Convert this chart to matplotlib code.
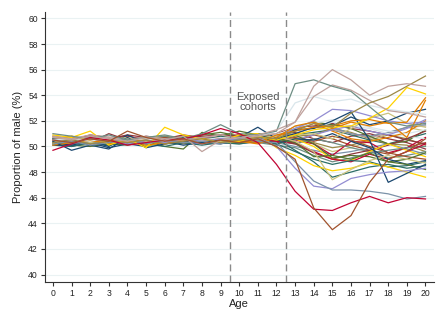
import matplotlib
matplotlib.use("Agg")
import matplotlib.pyplot as plt

plt.rcParams["font.family"] = ["Liberation Sans", "DejaVu Sans"]

ages = list(range(21))

# Stata s2color palette, cycled over the series
palette = ["#1a476f", "#90353b", "#55752f", "#e37e00", "#6e8e84",
           "#c10534", "#938dd2", "#cac27e", "#a0522d", "#7b92a8",
           "#2d6d66", "#9c8847", "#bfa19c", "#ffd200", "#d9e6eb"]

# proportion of male (%) by age, one list per group
navy_a = [50.4, 49.7, 50.1, 49.8, 50.7, 49.9, 50.2, 50.4, 50.3, 50.5, 50.6, 50.9, 50.5, 51.3, 51.4, 52.0, 52.7, 50.5, 47.2, 47.9, 48.6]
maroon_a = [50.6, 50.5, 50.9, 50.7, 50.8, 50.5, 50.7, 50.6, 50.8, 50.9, 50.8, 50.7, 51.0, 51.5, 51.6, 51.8, 51.4, 51.2, 50.9, 50.5, 50.2]
forest_a = [50.3, 50.1, 50.0, 50.2, 50.1, 50.4, 50.0, 49.8, 51.1, 50.8, 51.2, 50.9, 50.7, 50.9, 50.2, 49.1, 49.3, 49.2, 48.8, 49.0, 49.5]
orange_a = [50.8, 50.6, 50.4, 50.5, 50.3, 50.6, 50.2, 50.5, 50.4, 50.7, 50.5, 50.3, 50.9, 51.2, 51.5, 51.6, 52.0, 52.1, 51.8, 51.9, 53.8]
teal_a = [51.0, 50.8, 50.6, 50.9, 50.5, 50.7, 50.9, 50.6, 51.0, 51.7, 51.0, 50.9, 51.2, 54.9, 55.2, 54.7, 54.3, 53.1, 51.9, 51.6, 51.8]
cranberry_a = [49.7, 50.2, 50.7, 50.5, 50.1, 50.3, 50.5, 50.6, 50.9, 51.4, 51.0, 50.3, 48.6, 46.5, 45.1, 45.0, 45.6, 46.1, 45.6, 46.0, 45.9]
lavender_a = [50.5, 50.3, 50.6, 50.4, 50.2, 50.5, 50.3, 50.6, 50.4, 50.6, 50.5, 50.7, 50.0, 48.3, 46.9, 46.7, 47.5, 47.8, 48.0, 48.1, 48.3]
khaki_a = [50.4, 50.6, 50.3, 50.5, 50.7, 50.4, 50.6, 50.3, 50.5, 50.4, 50.6, 50.5, 50.8, 50.4, 49.6, 47.4, 48.2, 48.9, 49.3, 49.0, 48.7]
sienna_a = [50.5, 50.3, 50.6, 50.4, 51.2, 50.7, 50.4, 50.6, 50.2, 50.5, 50.3, 50.6, 50.0, 49.0, 45.2, 43.5, 44.6, 47.2, 49.0, 49.6, 50.6]
emidblue_a = [50.2, 50.4, 50.1, 50.3, 50.6, 50.2, 50.5, 50.3, 50.4, 50.2, 50.6, 50.4, 50.3, 48.8, 47.3, 46.6, 46.6, 46.5, 46.3, 45.9, 46.1]
emerald_a = [50.6, 50.4, 50.7, 50.5, 50.3, 50.6, 50.4, 50.7, 50.5, 50.8, 50.6, 50.5, 50.6, 49.7, 48.8, 47.6, 48.0, 48.4, 48.6, 48.3, 48.5]
olive_a = [50.3, 50.5, 50.2, 50.4, 50.3, 50.5, 50.2, 50.4, 50.6, 50.3, 50.5, 50.7, 50.6, 51.2, 51.8, 51.5, 52.6, 53.4, 53.9, 54.7, 55.5]
erose_a = [50.7, 50.5, 50.8, 50.6, 50.4, 50.7, 50.5, 50.8, 49.6, 50.5, 50.7, 50.9, 51.3, 51.9, 54.7, 56.0, 55.2, 54.0, 54.7, 54.9, 54.7]
gold_a = [50.9, 50.7, 51.2, 50.1, 50.6, 49.9, 51.5, 50.9, 50.6, 50.3, 50.4, 50.8, 50.5, 50.9, 51.3, 51.5, 51.6, 52.2, 53.0, 54.6, 54.1]
grey_a = [50.5, 50.6, 50.4, 50.7, 50.5, 50.6, 50.4, 50.6, 50.5, 50.7, 50.6, 50.8, 51.2, 53.4, 53.9, 53.5, 53.7, 53.2, 52.9, 52.7, 52.5]

navy_b = [50.3, 50.1, 50.4, 50.0, 50.9, 50.2, 50.6, 50.3, 50.5, 50.4, 50.7, 51.5, 50.6, 51.0, 51.5, 51.6, 52.3, 51.7, 52.0, 52.6, 52.9]
maroon_b = [50.4, 50.6, 50.3, 51.0, 50.5, 50.8, 50.6, 50.9, 50.7, 50.6, 50.9, 50.6, 50.4, 50.2, 49.5, 49.0, 49.4, 49.7, 50.1, 50.6, 51.2]
forest_b = [50.6, 50.4, 50.6, 50.3, 50.5, 50.7, 50.4, 50.6, 50.9, 51.1, 50.8, 51.0, 50.8, 51.5, 51.9, 51.7, 51.4, 50.8, 50.2, 50.4, 51.3]
orange_b = [50.1, 50.3, 50.5, 50.2, 50.4, 50.1, 50.3, 50.5, 50.6, 50.5, 50.4, 50.2, 50.7, 51.6, 51.9, 51.4, 51.9, 51.6, 51.9, 50.7, 53.6]
teal_b = [50.4, 50.2, 50.5, 50.7, 50.4, 50.6, 50.8, 50.5, 50.3, 50.6, 50.4, 50.3, 50.1, 49.9, 49.3, 48.8, 49.1, 49.5, 49.7, 49.9, 50.0]
cranberry_b = [50.5, 50.7, 50.4, 50.6, 50.8, 50.5, 50.7, 50.4, 50.6, 50.8, 50.9, 50.6, 50.3, 50.5, 50.2, 49.3, 50.4, 50.3, 49.5, 49.9, 50.7]
lavender_b = [50.3, 50.5, 50.2, 50.4, 50.6, 50.3, 50.5, 50.4, 50.2, 50.6, 50.5, 50.4, 50.8, 51.4, 52.0, 52.9, 52.8, 52.4, 52.0, 51.8, 51.9]
khaki_b = [50.6, 50.4, 50.7, 50.5, 50.3, 50.6, 50.4, 50.6, 50.8, 50.5, 50.7, 50.6, 50.9, 51.0, 50.2, 49.6, 49.9, 50.4, 51.0, 51.5, 51.2]
sienna_b = [50.4, 50.6, 50.5, 50.7, 50.6, 50.3, 50.6, 50.5, 50.7, 50.6, 50.4, 50.5, 50.6, 50.4, 50.9, 50.6, 50.1, 49.7, 49.4, 49.9, 50.3]
emidblue_b = [50.6, 50.4, 50.3, 50.5, 50.4, 50.7, 50.5, 50.3, 50.6, 50.4, 50.8, 50.6, 50.9, 51.3, 51.8, 51.5, 51.0, 50.8, 51.1, 51.5, 51.7]
emerald_b = [50.2, 50.0, 50.3, 50.1, 50.4, 50.2, 50.0, 50.3, 50.1, 50.3, 50.2, 50.4, 50.2, 49.6, 49.0, 48.6, 48.9, 48.8, 48.4, 48.5, 48.8]
olive_b = [50.5, 50.7, 50.4, 50.6, 50.5, 50.4, 50.6, 50.8, 50.4, 50.6, 50.5, 50.3, 50.4, 50.8, 50.9, 51.4, 51.1, 50.6, 50.2, 50.1, 49.6]
erose_b = [50.8, 50.6, 50.9, 50.7, 50.5, 50.8, 50.6, 50.5, 50.7, 50.9, 50.6, 50.8, 51.0, 51.9, 53.9, 54.8, 54.4, 53.6, 52.8, 52.6, 52.3]
gold_b = [50.2, 50.8, 50.5, 50.2, 50.6, 50.0, 50.4, 50.6, 50.3, 50.4, 50.9, 51.0, 49.9, 49.3, 48.5, 48.1, 48.3, 48.7, 48.4, 48.0, 47.6]
grey_b = [50.4, 50.3, 50.5, 50.2, 50.4, 50.3, 50.5, 50.6, 50.4, 50.5, 50.7, 50.6, 50.9, 51.5, 51.8, 52.1, 51.9, 51.5, 51.2, 51.0, 51.3]

navy_c = [50.1, 50.0, 50.3, 49.9, 50.2, 50.0, 50.4, 50.1, 50.3, 50.2, 50.5, 50.7, 50.2, 50.6, 50.5, 51.0, 50.4, 49.9, 49.0, 48.6, 48.9]
maroon_c = [50.7, 50.5, 50.8, 50.6, 50.9, 50.7, 50.5, 50.8, 50.6, 50.7, 50.8, 50.9, 51.0, 51.1, 50.6, 50.3, 50.8, 51.0, 50.6, 50.3, 49.8]
forest_c = [50.5, 50.3, 50.4, 50.6, 50.2, 50.5, 50.3, 50.4, 50.6, 50.4, 50.3, 50.5, 50.6, 50.3, 49.2, 49.3, 49.0, 49.5, 48.8, 48.6, 48.2]
orange_c = [50.6, 50.8, 50.5, 50.7, 50.4, 50.6, 50.8, 50.6, 50.4, 50.8, 50.7, 50.5, 50.7, 51.3, 51.8, 51.2, 50.6, 50.4, 50.7, 51.1, 52.0]
teal_c = [50.2, 50.4, 50.3, 50.1, 50.3, 50.4, 50.2, 50.3, 50.5, 50.3, 50.2, 50.4, 50.5, 50.2, 50.6, 50.3, 49.9, 49.6, 49.1, 49.3, 49.6]
cranberry_c = [50.3, 50.5, 50.6, 50.4, 50.2, 50.4, 50.6, 50.3, 50.5, 50.4, 50.6, 50.5, 50.4, 50.3, 49.6, 49.0, 48.8, 49.4, 49.0, 49.6, 50.2]
lavender_c = [50.6, 50.4, 50.5, 50.7, 50.5, 50.4, 50.6, 50.5, 50.7, 50.5, 50.6, 50.8, 50.7, 50.5, 50.9, 51.3, 51.6, 51.2, 50.9, 51.4, 52.1]
khaki_c = [50.3, 50.5, 50.4, 50.6, 50.4, 50.6, 50.3, 50.5, 50.4, 50.6, 50.5, 50.7, 50.8, 50.9, 51.0, 50.6, 51.4, 52.2, 52.6, 51.8, 51.5]
sienna_c = [50.5, 50.4, 50.6, 50.5, 50.3, 50.5, 50.7, 50.4, 50.6, 50.5, 50.6, 50.4, 50.5, 50.7, 50.4, 50.8, 50.5, 50.0, 49.5, 49.2, 49.0]
emidblue_c = [50.4, 50.6, 50.4, 50.3, 50.5, 50.3, 50.4, 50.6, 50.5, 50.3, 50.4, 50.6, 50.3, 50.0, 49.7, 49.4, 49.6, 49.9, 50.2, 49.8, 49.4]
emerald_c = [50.5, 50.7, 50.6, 50.4, 50.6, 50.5, 50.3, 50.5, 50.7, 50.6, 50.5, 50.4, 50.6, 50.9, 51.1, 51.3, 50.9, 50.5, 50.2, 50.6, 51.0]
olive_c = [50.4, 50.2, 50.5, 50.3, 50.4, 50.6, 50.5, 50.2, 50.4, 50.5, 50.3, 50.5, 50.4, 50.6, 50.3, 49.9, 50.1, 50.5, 50.9, 50.6, 50.1]
erose_c = [50.6, 50.5, 50.7, 50.5, 50.6, 50.4, 50.6, 50.7, 50.5, 50.6, 50.4, 50.6, 50.8, 51.0, 51.5, 51.3, 51.0, 50.7, 51.0, 51.5, 51.6]
gold_c = [50.5, 50.3, 50.6, 50.4, 50.5, 50.7, 50.5, 50.4, 50.6, 50.5, 50.7, 50.5, 50.2, 50.6, 50.0, 49.0, 48.9, 49.6, 50.2, 49.7, 49.2]
grey_c = [50.7, 50.6, 50.4, 50.6, 50.7, 50.5, 50.6, 50.4, 50.6, 50.8, 50.7, 50.9, 51.0, 51.2, 51.4, 51.9, 51.6, 51.4, 51.0, 50.8, 50.6]

series = [
    navy_a, maroon_a, forest_a, orange_a, teal_a, cranberry_a, lavender_a, khaki_a,
    sienna_a, emidblue_a, emerald_a, olive_a, erose_a, gold_a, grey_a,
    navy_b, maroon_b, forest_b, orange_b, teal_b, cranberry_b, lavender_b, khaki_b,
    sienna_b, emidblue_b, emerald_b, olive_b, erose_b, gold_b, grey_b,
    navy_c, maroon_c, forest_c, orange_c, teal_c, cranberry_c, lavender_c, khaki_c,
    sienna_c, emidblue_c, emerald_c, olive_c, erose_c, gold_c, grey_c,
]

fig = plt.figure(figsize=(4.45, 3.24), dpi=100)
ax = fig.add_axes([0.101, 0.131, 0.874, 0.832])

for y in range(40, 61, 2):
    ax.axhline(y, color="#eaf2f3", lw=0.8, zorder=0)

# draw the big deviations last so they sit on top
order = sorted(range(len(series)), key=lambda i: max(abs(v - 50.5) for v in series[i]))
for i in order:
    ax.plot(ages, series[i], color=palette[i % len(palette)], lw=0.9, zorder=2)

for xv in (9.5, 12.5):
    ax.axvline(xv, color="#8a8a8a", lw=1.0, ls=(0, (5, 3)), zorder=3)

ax.text(11.0, 53.45, "Exposed\ncohorts", ha="center", va="center",
        fontsize=8, color="#555555", linespacing=1.05)

ax.set_xlim(-0.43, 20.45)
ax.set_ylim(39.45, 60.5)
ax.set_xticks(ages)
ax.set_yticks(range(40, 61, 2))
ax.tick_params(labelsize=6.2, colors="#333333", length=3, width=0.8, pad=2)
ax.tick_params(axis="both", labelcolor="#222222")
for side in ("top", "right"):
    ax.spines[side].set_visible(False)
for side in ("left", "bottom"):
    ax.spines[side].set_color("#333333")
    ax.spines[side].set_linewidth(0.8)

ax.set_xlabel("Age", fontsize=8, color="#222222", labelpad=1)
ax.set_ylabel("Proportion of male (%)", fontsize=8, color="#222222", labelpad=4)

fig.savefig("out.png", dpi=100)
